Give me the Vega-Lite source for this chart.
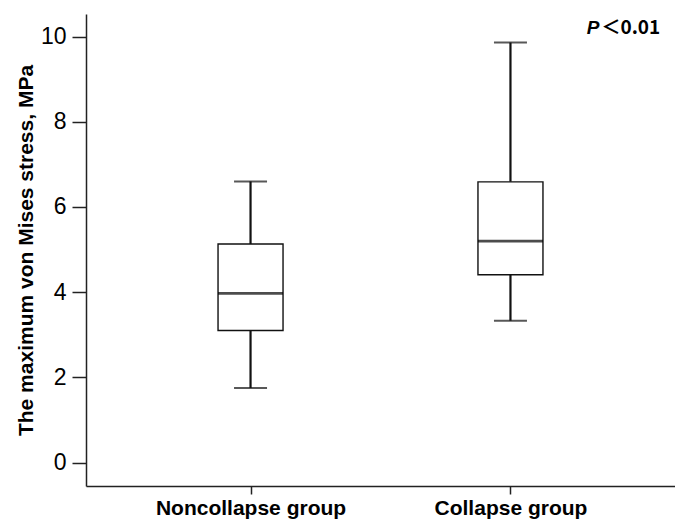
{
  "$schema": "https://vega.github.io/schema/vega-lite/v6.json",
  "autosize": {"type": "none"},
  "width": 589,
  "height": 472,
  "padding": {"left": 86, "top": 14, "right": 0, "bottom": 37},
  "background": "white",
  "config": {
    "view": {"stroke": null},
    "font": "Liberation Sans",
    "axis": {"grid": false, "domainColor": "#222", "tickColor": "#222", "labelColor": "#000", "titleColor": "#000", "domainWidth": 1.5, "tickWidth": 1.5, "labelLimit": 0}
  },
  "data": {
    "values": [
      {"group": "Noncollapse group", "low": 1.75, "q1": 3.10, "median": 3.97, "q3": 5.13, "high": 6.60},
      {"group": "Collapse group", "low": 3.33, "q1": 4.41, "median": 5.20, "q3": 6.59, "high": 9.86}
    ]
  },
  "encoding": {
    "x": {
      "field": "group", "type": "nominal", "sort": null,
      "scale": {"type": "point", "padding": 0.633},
      "axis": {"title": null, "labelAngle": 0, "labelFontSize": 21, "labelFontWeight": "bold", "tickSize": 8, "labelPadding": 3, "labelLimit": 0}
    }
  },
  "layer": [
    {
      "mark": {"type": "rule", "color": "#111", "strokeWidth": 2.2},
      "encoding": {
        "y": {"field": "low", "type": "quantitative",
          "scale": {"domain": [-0.55, 10.53], "nice": false, "zero": false},
          "axis": {"values": [0, 2, 4, 6, 8, 10], "tickSize": 14, "labelFontSize": 23, "labelPadding": 6,
            "title": "The maximum von Mises stress, MPa", "titleFontSize": 21, "titleFontWeight": "bold", "titlePadding": 4}},
        "y2": {"field": "q1"}
      }
    },
    {
      "mark": {"type": "rule", "color": "#111", "strokeWidth": 2.2},
      "encoding": {
        "y": {"field": "q3", "type": "quantitative"},
        "y2": {"field": "high"}
      }
    },
    {
      "mark": {"type": "bar", "fill": "white", "stroke": "#111", "strokeWidth": 1.4, "size": 65},
      "encoding": {
        "y": {"field": "q1", "type": "quantitative"},
        "y2": {"field": "q3"}
      }
    },
    {
      "mark": {"type": "tick", "color": "#000", "thickness": 2.8, "size": 65},
      "encoding": {"y": {"field": "median", "type": "quantitative"}}
    },
    {
      "mark": {"type": "tick", "color": "#111", "thickness": 2, "size": 33},
      "encoding": {"y": {"field": "low", "type": "quantitative"}}
    },
    {
      "mark": {"type": "tick", "color": "#111", "thickness": 2, "size": 33},
      "encoding": {"y": {"field": "high", "type": "quantitative"}}
    },
    {
      "data": {"values": [{"label": "P", "group": "Collapse group", "yv": 10.2}]},
      "mark": {"type": "text", "fontSize": 19, "fontWeight": "bold", "fontStyle": "italic", "align": "right", "baseline": "middle", "dx": 89, "color": "#000"},
      "encoding": {"text": {"field": "label"}, "y": {"field": "yv", "type": "quantitative"}}
    },
    {
      "data": {"values": [{"label": "＜0.01", "group": "Collapse group", "yv": 10.2}]},
      "mark": {"type": "text", "fontSize": 19, "fontWeight": "bold", "align": "left", "baseline": "middle", "dx": 91, "color": "#000", "font": "Noto Sans CJK SC"},
      "encoding": {"text": {"field": "label"}, "y": {"field": "yv", "type": "quantitative"}}
    }
  ]
}
